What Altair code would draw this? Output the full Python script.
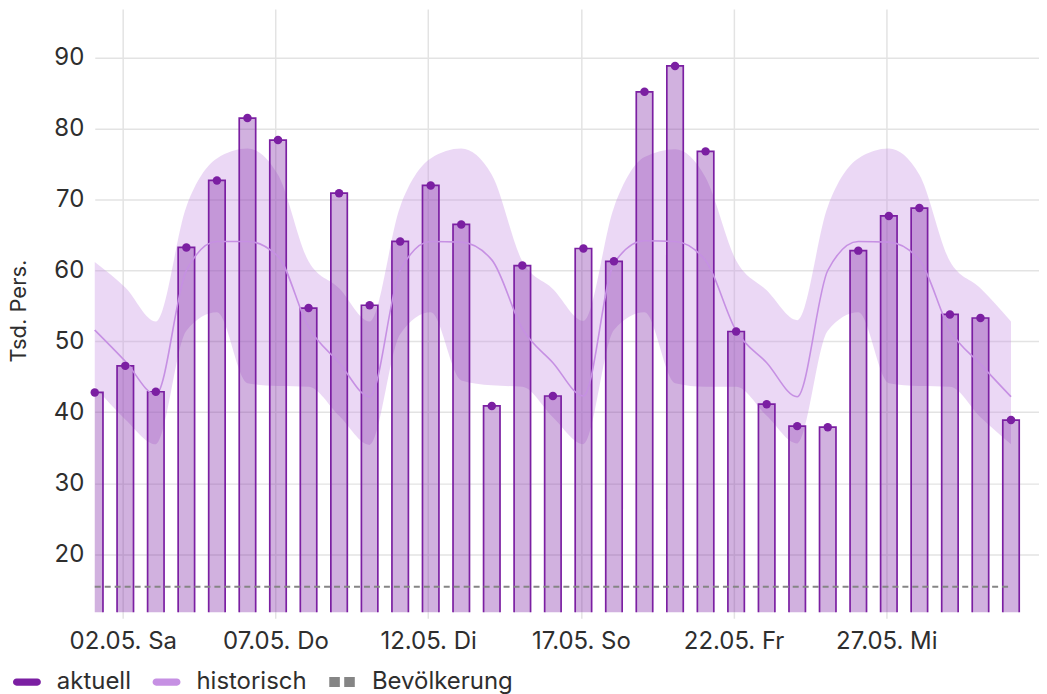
import altair as alt
import pandas as pd

# ---- data -------------------------------------------------------------
days = [f"2026-05-{d:02d}T00:00:00Z" for d in range(1, 32)]

aktuell = [42.8, 46.55, 42.9, 63.25, 72.7, 81.5, 78.4, 54.7, 70.9, 55.1,
           64.1, 72.0, 66.5, 40.9, 60.7, 42.3, 63.1, 61.3, 85.2, 88.85,
           76.8, 51.4, 41.15, 38.05, 37.9, 62.8, 67.7, 68.8, 53.8, 53.3, 38.9]

hist_median = [51.6, 47.2, 42.5, 60.0, 64.1, 64.1, 62.0,
               52.0, 47.0, 42.2, 60.0, 64.1, 64.0, 61.5,
               51.8, 47.0, 42.3, 61.0, 64.2, 64.1, 61.4,
               51.5, 47.0, 42.2, 60.0, 64.1, 64.0, 61.5,
               51.6, 46.8, 42.2]

hist_low = [43.6, 39.0, 35.5, 51.5, 54.1, 44.1, 43.7,
            43.6, 39.5, 35.4, 51.0, 54.1, 44.5, 43.8,
            43.6, 39.3, 35.5, 51.6, 54.1, 44.1, 43.6,
            43.6, 39.5, 35.6, 51.5, 54.1, 44.1, 43.7,
            43.6, 39.3, 35.5]

hist_high = [61.2, 57.6, 52.8, 69.0, 75.8, 77.2, 73.5,
             61.3, 57.5, 52.8, 69.0, 75.8, 77.2, 73.5,
             61.3, 57.4, 52.9, 68.9, 76.0, 77.1, 73.1,
             61.4, 57.2, 53.0, 69.0, 75.8, 77.2, 73.5,
             61.3, 57.5, 52.8]

bevoelkerung = [15.4, 15.4, 15.4, 15.4, 15.4, 15.4, 15.4, 15.4, 15.4, 15.4,
                15.4, 15.4, 15.4, 15.4, 15.4, 15.4, 15.4, 15.4, 15.4, 15.4,
                15.4, 15.4, 15.4, 15.4, 15.4, 15.4, 15.4, 15.4, 15.4, 15.4, 15.4]

y_ticks = [20, 30, 40, 50, 60, 70, 80, 90]
x_tick_days = [1, 6, 11, 16, 21, 26]   # 22:00 UTC = local midnight of the next day
weekday_names = ["So", "Mo", "Di", "Mi", "Do", "Fr", "Sa"]

legend_names = ["aktuell", "historisch", "Bevölkerung"]
legend_colors = ["#7B1FA2", "#C690E3", "#858585"]
legend_shapes = [
    "M-0.74,-0.26 L0.74,-0.26 A0.26,0.26 0 0 1 0.74,0.26 L-0.74,0.26 A0.26,0.26 0 0 1 -0.74,-0.26 Z",
    "M-0.74,-0.26 L0.74,-0.26 A0.26,0.26 0 0 1 0.74,0.26 L-0.74,0.26 A0.26,0.26 0 0 1 -0.74,-0.26 Z",
    "M-0.914,-0.36 L-0.157,-0.36 L-0.157,0.36 L-0.914,0.36 Z M0.157,-0.36 L0.914,-0.36 L0.914,0.36 L0.157,0.36 Z",
]

df = pd.DataFrame({
    "date": days,
    "aktuell": aktuell,
    "median": hist_median,
    "low": hist_low,
    "high": hist_high,
    "pop": bevoelkerung,
})
legend_df = pd.DataFrame({"series": legend_names, "hide": [0, 0, 0]})

# ---- styling ----------------------------------------------------------
PURPLE = "#7B1FA2"
LAVENDER = "#C690E3"
TEXT = "#2e2e2e"
GRID = "#e3e3e3"
FONT = "Inter"

x_scale = alt.Scale(
    type="utc",
    nice=False,
    padding=0,
    domain=[alt.DateTime(year=2026, month=5, date=1, hours=0, utc=True),
            alt.DateTime(year=2026, month=5, date=31, hours=22, utc=True)],
)
y_scale = alt.Scale(domain=[11.8, 96.88], nice=False, zero=False, padding=0)

label_expr = (
    "utcFormat(time(datum.value) + 7200000, '%d.%m.') + ' ' + "
    + str(weekday_names).replace('"', "'")
    + "[utcday(time(datum.value) + 7200000)]"
)

x_enc = alt.X(
    "date:T",
    scale=x_scale,
    axis=alt.Axis(
        title=None,
        values=[alt.DateTime(year=2026, month=5, date=d, hours=22, utc=True) for d in x_tick_days],
        labelExpr=label_expr,
        grid=True,
        domain=False,
        ticks=True,
        tickSize=6,
        tickColor=GRID,
        tickWidth=1.5,
        labelPadding=11,
        labelAngle=0,
    ),
)

y_axis = alt.Axis(
    title="Tsd. Pers.",
    values=y_ticks,
    grid=True,
    domain=False,
    ticks=False,
    tickSize=0,
    labelPadding=11,
    titleX=-76,
    titleBaseline="middle",
    titleFontWeight="normal",
    titleFontSize=22,
)

base = alt.Chart(df)

band = base.mark_area(interpolate="monotone", color=LAVENDER, opacity=0.35).encode(
    x=x_enc,
    y=alt.Y("low:Q", scale=y_scale, axis=y_axis),
    y2="high:Q",
)

bars = base.mark_bar(
    width=16.5, fill=PURPLE, fillOpacity=0.35, stroke=PURPLE, strokeWidth=1.7, clip=True
).encode(
    x=x_enc,
    y=alt.Y("aktuell:Q", scale=y_scale),
    y2=alt.datum(0),
)

hist_line = base.mark_line(interpolate="monotone", color=LAVENDER, strokeWidth=1.6).encode(
    x=x_enc,
    y=alt.Y("median:Q", scale=y_scale),
)

dots = base.mark_circle(size=72, color=PURPLE, opacity=1).encode(
    x=x_enc,
    y=alt.Y("aktuell:Q", scale=y_scale),
)

pop_line = base.mark_line(color="#858585", strokeWidth=2, strokeDash=[6, 4]).encode(
    x=x_enc,
    y=alt.Y("pop:Q", scale=y_scale),
)

legend_props = dict(
    title=None,
    orient="none",
    legendX=-82,
    legendY=661,
    direction="horizontal",
    symbolSize=784,
    symbolStrokeWidth=0,
    symbolOpacity=1,
    labelOffset=16,
    columnPadding=21,
    labelFont=FONT,
    labelFontSize=24,
    labelColor=TEXT,
    padding=0,
)

legend_layer = alt.Chart(legend_df).mark_point(filled=True).encode(
    color=alt.Color("series:N", scale=alt.Scale(domain=legend_names, range=legend_colors),
                    legend=alt.Legend(**legend_props)),
    shape=alt.Shape("series:N", scale=alt.Scale(domain=legend_names, range=legend_shapes),
                    legend=alt.Legend(**legend_props)),
    opacity=alt.Opacity("hide:Q", scale=None, legend=None),
)

chart = (
    alt.layer(band, bars, hist_line, dots, pop_line, legend_layer)
    .properties(
        width=947,
        height=605,
        padding={"left": 87, "top": 0, "right": 0, "bottom": 88},
        autosize=alt.AutoSizeParams(type="none"),
    )
    .configure_view(stroke=None)
    .configure_axis(
        labelFont=FONT,
        labelFontSize=24,
        labelColor=TEXT,
        titleFont=FONT,
        titleFontSize=22,
        titleColor=TEXT,
        gridColor=GRID,
        gridWidth=1.5,
    )
)

chart.save("out.html", embed_options={"renderer": "svg", "actions": False})
